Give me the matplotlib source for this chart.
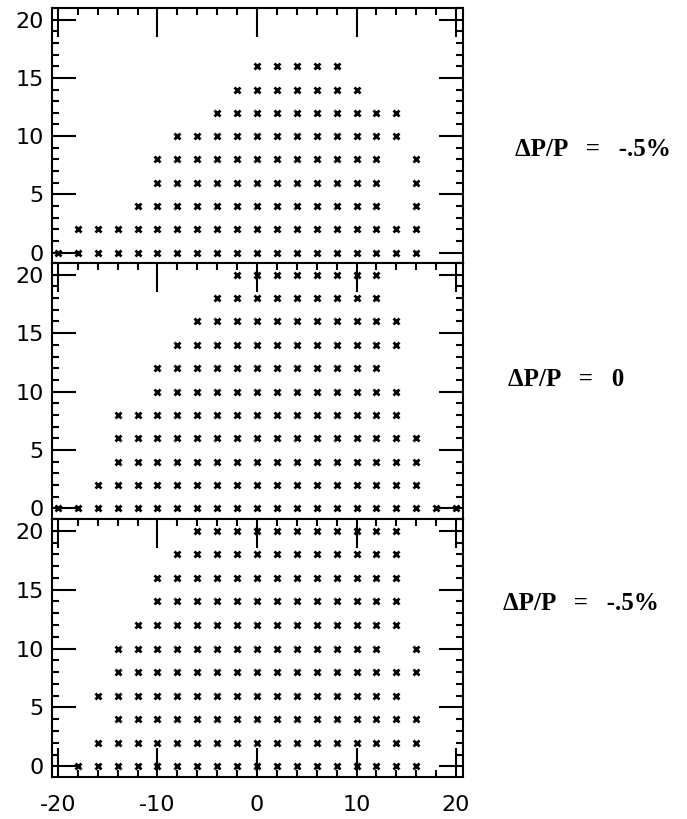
"""Three stacked scatter panels of accepted (x, y) grid points for different dP/P."""

import matplotlib

matplotlib.use("Agg")
import matplotlib.pyplot as plt
from matplotlib.ticker import MultipleLocator

# accepted points, one x list per y row (top panel: dP/P = -.5%)
top_rows = {
    0: [-20, -18, -16, -14, -12, -10, -8, -6, -4, -2, 0, 2, 4, 6, 8, 10, 12, 14, 16],
    2: [-18, -16, -14, -12, -10, -8, -6, -4, -2, 0, 2, 4, 6, 8, 10, 12, 14, 16],
    4: [-12, -10, -8, -6, -4, -2, 0, 2, 4, 6, 8, 10, 12, 16],
    6: [-10, -8, -6, -4, -2, 0, 2, 4, 6, 8, 10, 12, 16],
    8: [-10, -8, -6, -4, -2, 0, 2, 4, 6, 8, 10, 12, 16],
    10: [-8, -6, -4, -2, 0, 2, 4, 6, 8, 10, 12, 14],
    12: [-4, -2, 0, 2, 4, 6, 8, 10, 12, 14],
    14: [-2, 0, 2, 4, 6, 8, 10],
    16: [0, 2, 4, 6, 8],
}

# middle panel: dP/P = 0
middle_rows = {
    0: [-20, -18, -16, -14, -12, -10, -8, -6, -4, -2, 0, 2, 4, 6, 8, 10, 12, 14, 16, 18, 20],
    2: [-16, -14, -12, -10, -8, -6, -4, -2, 0, 2, 4, 6, 8, 10, 12, 14, 16],
    4: [-14, -12, -10, -8, -6, -4, -2, 0, 2, 4, 6, 8, 10, 12, 14, 16],
    6: [-14, -12, -10, -8, -6, -4, -2, 0, 2, 4, 6, 8, 10, 12, 14, 16],
    8: [-14, -12, -10, -8, -6, -4, -2, 0, 2, 4, 6, 8, 10, 12, 14],
    10: [-10, -8, -6, -4, -2, 0, 2, 4, 6, 8, 10, 12, 14],
    12: [-10, -8, -6, -4, -2, 0, 2, 4, 6, 8, 10, 12],
    14: [-8, -6, -4, -2, 0, 2, 4, 6, 8, 10, 12, 14],
    16: [-6, -4, -2, 0, 2, 4, 6, 8, 10, 12, 14],
    18: [-4, -2, 0, 2, 4, 6, 8, 10, 12],
    20: [-2, 0, 2, 4, 6, 8, 10, 12],
}

# bottom panel: dP/P = -.5%
bottom_rows = {
    0: [-18, -16, -14, -12, -10, -8, -6, -4, -2, 0, 2, 4, 6, 8, 10, 12, 14, 16],
    2: [-16, -14, -12, -10, -8, -6, -4, -2, 0, 2, 4, 6, 8, 10, 12, 14, 16],
    4: [-14, -12, -10, -8, -6, -4, -2, 0, 2, 4, 6, 8, 10, 12, 14, 16],
    6: [-16, -14, -12, -10, -8, -6, -4, -2, 0, 2, 4, 6, 8, 10, 12, 14],
    8: [-14, -12, -10, -8, -6, -4, -2, 0, 2, 4, 6, 8, 10, 12, 14, 16],
    10: [-14, -12, -10, -8, -6, -4, -2, 0, 2, 4, 6, 8, 10, 12, 16],
    12: [-12, -10, -8, -6, -4, -2, 0, 2, 4, 6, 8, 10, 12, 14],
    14: [-10, -8, -6, -4, -2, 0, 2, 4, 6, 8, 10, 12, 14],
    16: [-10, -8, -6, -4, -2, 0, 2, 4, 6, 8, 10, 12, 14],
    18: [-8, -6, -4, -2, 0, 2, 4, 6, 8, 10, 12, 14],
    20: [-6, -4, -2, 0, 2, 4, 6, 8, 10, 12, 14],
}

panel_labels = ["\u0394P/P   =   -.5%", "\u0394P/P   =   0", "\u0394P/P   =   -.5%"]
x_ticks = [-20, -10, 0, 10, 20]
y_ticks = [0, 5, 10, 15, 20]

plt.rcParams["axes.unicode_minus"] = False
plt.rcParams["font.family"] = "DejaVu Sans"

W, H = 687, 819
fig = plt.figure(figsize=(W / 100, H / 100), dpi=100)

left, right = 52 / W, 463 / W
panel_edges = [(8, 263), (263, 519), (519, 777)]
label_pos = [(515, 149), (508, 380), (503, 604)]


def _flatten(rows):
    xs, ys = [], []
    for y, row in rows.items():
        xs.extend(row)
        ys.extend([y] * len(row))
    return xs, ys


for idx, rows in enumerate([top_rows, middle_rows, bottom_rows]):
    top_px, bot_px = panel_edges[idx]
    is_last = idx == 2
    ax = fig.add_axes([left, 1 - bot_px / H, right - left, (bot_px - top_px) / H])
    xs, ys = _flatten(rows)
    ax.plot(xs, ys, linestyle="none", marker="x", markersize=4.2, markeredgewidth=2.0, color="black", zorder=3)

    ax.set_xlim(-20.6, 20.7)
    ax.set_ylim(-0.9, 21)
    ax.set_xticks(x_ticks)
    ax.set_yticks(y_ticks)
    ax.xaxis.set_minor_locator(MultipleLocator(2))
    ax.yaxis.set_minor_locator(MultipleLocator(1))
    for spine in ax.spines.values():
        spine.set_linewidth(1.5)

    ax.tick_params(axis="both", which="both", direction="in", top=True, right=True, width=1.5, colors="black")
    # only the lowest panel keeps ticks on its bottom edge
    ax.tick_params(axis="x", which="both", bottom=is_last)
    ax.tick_params(axis="x", which="major", length=21)
    ax.tick_params(axis="y", which="major", length=17)
    ax.tick_params(axis="both", which="minor", length=5)
    ax.tick_params(axis="y", labelsize=16, pad=6)
    ax.tick_params(axis="x", labelsize=16, pad=13, labelbottom=is_last)

    lx, ly = label_pos[idx]
    fig.text(lx / W, 1 - ly / H, panel_labels[idx], ha="left", va="center",
             fontsize=18, fontweight="bold", family="Liberation Serif")

fig.savefig("out.png", dpi=100)
